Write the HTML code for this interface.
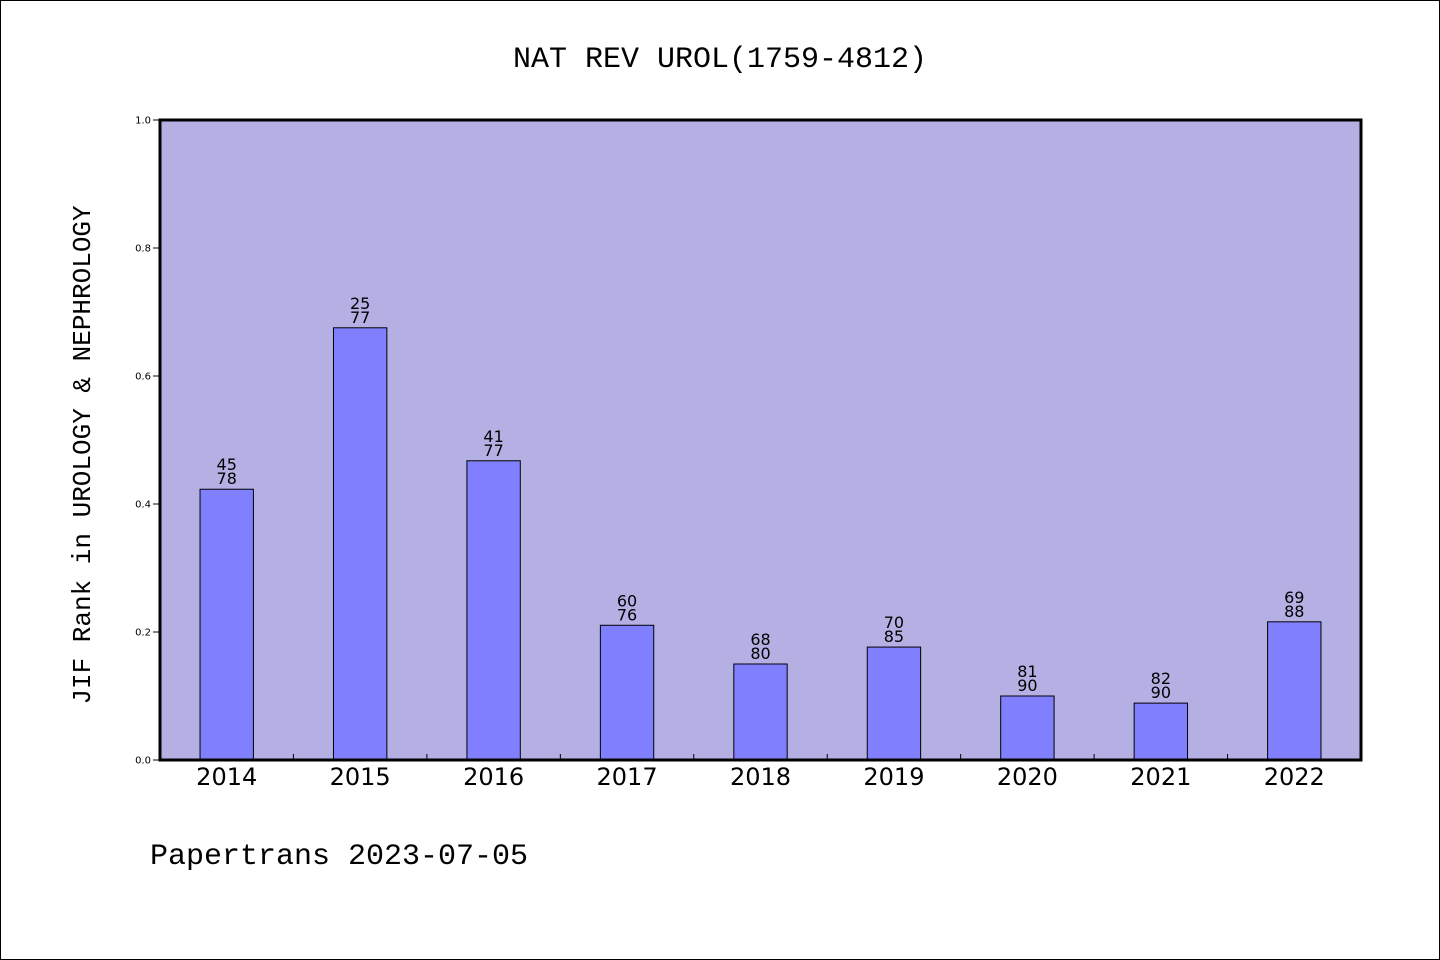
<!DOCTYPE html>
<html><head><meta charset="utf-8"><style>
html,body{margin:0;padding:0;background:#fff}
svg{display:block}
.mono{font-family:"WenQuanYi Zen Hei","Liberation Mono",monospace}
.sans{font-family:"DejaVu Sans","Liberation Sans",sans-serif}
</style></head><body>
<svg id="chart" width="1440" height="960" xmlns="http://www.w3.org/2000/svg">
<rect x="0.5" y="0.5" width="1439" height="959" fill="#fff" stroke="#000"/>
<text x="720" y="67" text-anchor="middle" font-size="30" class="mono">NAT REV UROL(1759-4812)</text>
<rect x="160" y="120" width="1201" height="640" fill="#b5b0e3"/>
<g id="yaxis"></g>
<g id="bars"></g>
<g id="xaxis"></g>
<rect x="160" y="120" width="1201" height="640" fill="none" stroke="#000" stroke-width="3"/>
<text transform="translate(90,455) rotate(-90)" text-anchor="middle" font-size="26" class="mono">JIF Rank in UROLOGY &amp; NEPHROLOGY</text>
<text x="150" y="864" font-size="30" class="mono">Papertrans 2023-07-05</text>
</svg>
<script>
const years = ["2014","2015","2016","2017","2018","2019","2020","2021","2022"];
const ranks = [45,25,41,60,68,70,81,82,69];
const totals = [78,77,77,76,80,85,90,90,88];
const yTicks = [0,0.2,0.4,0.6,0.8,1.0];
const NS="http://www.w3.org/2000/svg";
const X0=160,X1=1361,Y0=760,Y1=120;
const slot=(X1-X0)/years.length;
const xc=i=>X0+slot*(i+0.5);
const y=v=>Y0-(Y0-Y1)*v;
function mk(tag,attrs,parent,text){const e=document.createElementNS(NS,tag);for(const k in attrs)e.setAttribute(k,attrs[k]);if(text!==undefined)e.textContent=text;parent.appendChild(e);return e;}
const ya=document.getElementById('yaxis'),ba=document.getElementById('bars'),xa=document.getElementById('xaxis');
yTicks.forEach(t=>{
  const l=mk('line',{x1:153,x2:160,y1:y(t),y2:y(t),stroke:'#000'},ya);
  
  
  const tx=mk('text',{x:151,y:y(t)+3.5,'text-anchor':'end','font-size':10,class:'sans'},ya,t.toFixed(1));
  
  
});
years.forEach((yr,i)=>{
  const v=1-ranks[i]/totals[i];
  const w=slot*0.4;
  const r=mk('rect',{x:xc(i)-w/2,y:y(v),width:w,height:Y0-y(v),fill:'#8080ff',stroke:'#000','stroke-width':1},ba);
  
  
  const a=mk('text',{x:xc(i),y:y(v)-19,'text-anchor':'middle','font-size':16,class:'sans'},ba,String(ranks[i]));
  
  
  const b=mk('text',{x:xc(i),y:y(v)-5,'text-anchor':'middle','font-size':16,class:'sans'},ba,String(totals[i]));
  
  
  const xl=mk('text',{x:xc(i),y:785,'text-anchor':'middle','font-size':24,class:'sans'},xa,yr);
  
  
  if(i>0){
    const tk=mk('line',{x1:X0+slot*i,x2:X0+slot*i,y1:Y0,y2:Y0-6,stroke:'#000'},xa);
    
    
  }
});
</script>
</body></html>
